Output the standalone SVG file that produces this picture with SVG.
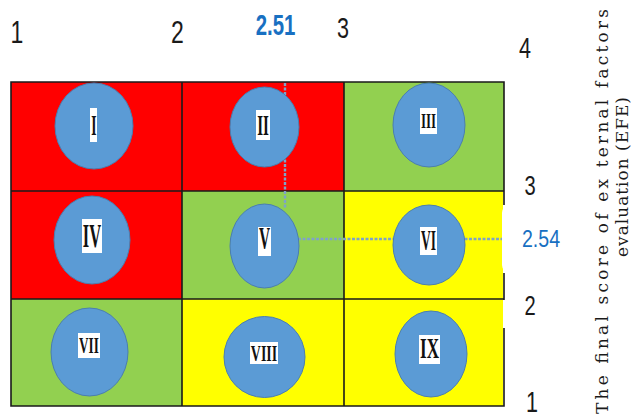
<svg xmlns="http://www.w3.org/2000/svg" width="631" height="420" viewBox="0 0 631 420">
<style>
.r{fill:#FF0000}.g{fill:#92D050}.y{fill:#FFFF00}
.ln{stroke:#1a1a1a;stroke-width:1.6;fill:none}
.c{fill:#5B9BD5;stroke:#4A7EB0;stroke-width:1}
.bx{fill:#ffffff}
.rn{font-family:"Liberation Serif",serif;font-weight:bold;fill:#111;text-anchor:middle}
.ax{font-family:"Liberation Sans",sans-serif;fill:#1a1a1a;text-anchor:middle}
.bl{font-family:"Liberation Sans",sans-serif;fill:#1870C2;text-anchor:middle}
.ds{stroke:#7FA3C8;stroke-width:2.4;stroke-dasharray:3 1.5;fill:none}
.vt{font-family:"DejaVu Serif",serif;fill:#1a1a1a}
</style>
<rect width="631" height="420" fill="#ffffff"/>
<g id="grid">
<rect class="r" x="11" y="82" width="171" height="109"/>
<rect class="r" x="182" y="82" width="162" height="109"/>
<rect class="g" x="344" y="82" width="160" height="109"/>
<rect class="r" x="11" y="191" width="171" height="108"/>
<rect class="g" x="182" y="191" width="162" height="108"/>
<rect class="y" x="344" y="191" width="159" height="108"/>
<rect class="g" x="11" y="299" width="171" height="107"/>
<rect class="y" x="182" y="299" width="162" height="107"/>
<rect class="y" x="344" y="299" width="159" height="107"/>
<path class="ln" d="M504 205V82H11V406H504V328M504 273V300M182 82V406M344 82V406M11 191H504M11 299H504"/>
<rect x="502" y="205" width="20" height="68" rx="8" fill="#ffffff"/>
</g>
<g id="connectors">
<line class="ds" x1="285" y1="83" x2="285" y2="208"/>
<line class="ds" x1="298" y1="239" x2="502" y2="239"/>
</g>
<g id="n1"><ellipse class="c" cx="94" cy="126" rx="39" ry="43"/><rect class="bx" x="90" y="108" width="7" height="34"/><text class="rn" font-size="30" transform="translate(94,135) scale(0.45,1)">I</text></g>
<g id="n2"><ellipse class="c" cx="264.5" cy="127" rx="34.5" ry="40"/><rect class="bx" x="256" y="110" width="14" height="30"/><text class="rn" font-size="30" transform="translate(263,135) scale(0.5,1)">II</text></g>
<g id="n3"><ellipse class="c" cx="429" cy="125" rx="36" ry="42"/><rect class="bx" x="420" y="108" width="17" height="26"/><text class="rn" font-size="20" transform="translate(428.5,128) scale(0.65,1)">III</text></g>
<g id="n4"><ellipse class="c" cx="92" cy="240" rx="38" ry="44"/><rect class="bx" x="82" y="219" width="20" height="34"/><text class="rn" font-size="33" transform="translate(92,247) scale(0.5,1)">IV</text></g>
<g id="n5"><ellipse class="c" cx="264.5" cy="246" rx="34.5" ry="42"/><rect class="bx" x="258" y="227" width="13" height="29"/><text class="rn" font-size="32" transform="translate(264.5,249) scale(0.48,1)">V</text></g>
<g id="n6"><ellipse class="c" cx="429" cy="245" rx="36" ry="40"/><rect class="bx" x="420" y="227" width="17" height="28"/><text class="rn" font-size="30" transform="translate(428.5,250) scale(0.45,1)">VI</text></g>
<g id="n7"><ellipse class="c" cx="89.5" cy="352" rx="38.5" ry="44"/><rect class="bx" x="78" y="333" width="22" height="25"/><text class="rn" font-size="24" transform="translate(89,353) scale(0.55,1)">VII</text></g>
<g id="n8"><ellipse class="c" cx="264.5" cy="357" rx="40.5" ry="40.5"/><rect class="bx" x="250" y="342" width="28" height="22"/><text class="rn" font-size="24" transform="translate(264,361) scale(0.58,1)">VIII</text></g>
<g id="n9"><ellipse class="c" cx="431" cy="354" rx="36" ry="43"/><rect class="bx" x="419" y="335" width="21" height="29"/><text class="rn" font-size="30" transform="translate(429.5,358) scale(0.57,1)">IX</text></g>
<g id="labels">
<text class="ax" font-size="32" transform="translate(17,43) scale(0.72,1)">1</text>
<text class="ax" font-size="32" transform="translate(177.5,43) scale(0.72,1)">2</text>
<text class="ax" font-size="30" transform="translate(343,38) scale(0.72,1)">3</text>
<text class="ax" font-size="30" transform="translate(525,58) scale(0.72,1)">4</text>
<text class="bl" font-size="30" font-weight="bold" transform="translate(275.5,35) scale(0.68,1)">2.51</text>
<text class="ax" font-size="28" transform="translate(530,195) scale(0.72,1)">3</text>
<text class="bl" font-size="23" transform="translate(541,247) scale(0.85,1)">2.54</text>
<text class="ax" font-size="28" transform="translate(530,315) scale(0.72,1)">2</text>
<text class="ax" font-size="30" transform="translate(532,412) scale(0.72,1)">1</text>
<text class="vt" font-size="17" textLength="405" lengthAdjust="spacing" transform="translate(608,414) rotate(-90)">The final score of ex ternal factors</text>
<text class="vt" font-size="17" textLength="160" lengthAdjust="spacing" transform="translate(628,257) rotate(-90)">evaluation (EFE)</text>
</g>
</svg>
